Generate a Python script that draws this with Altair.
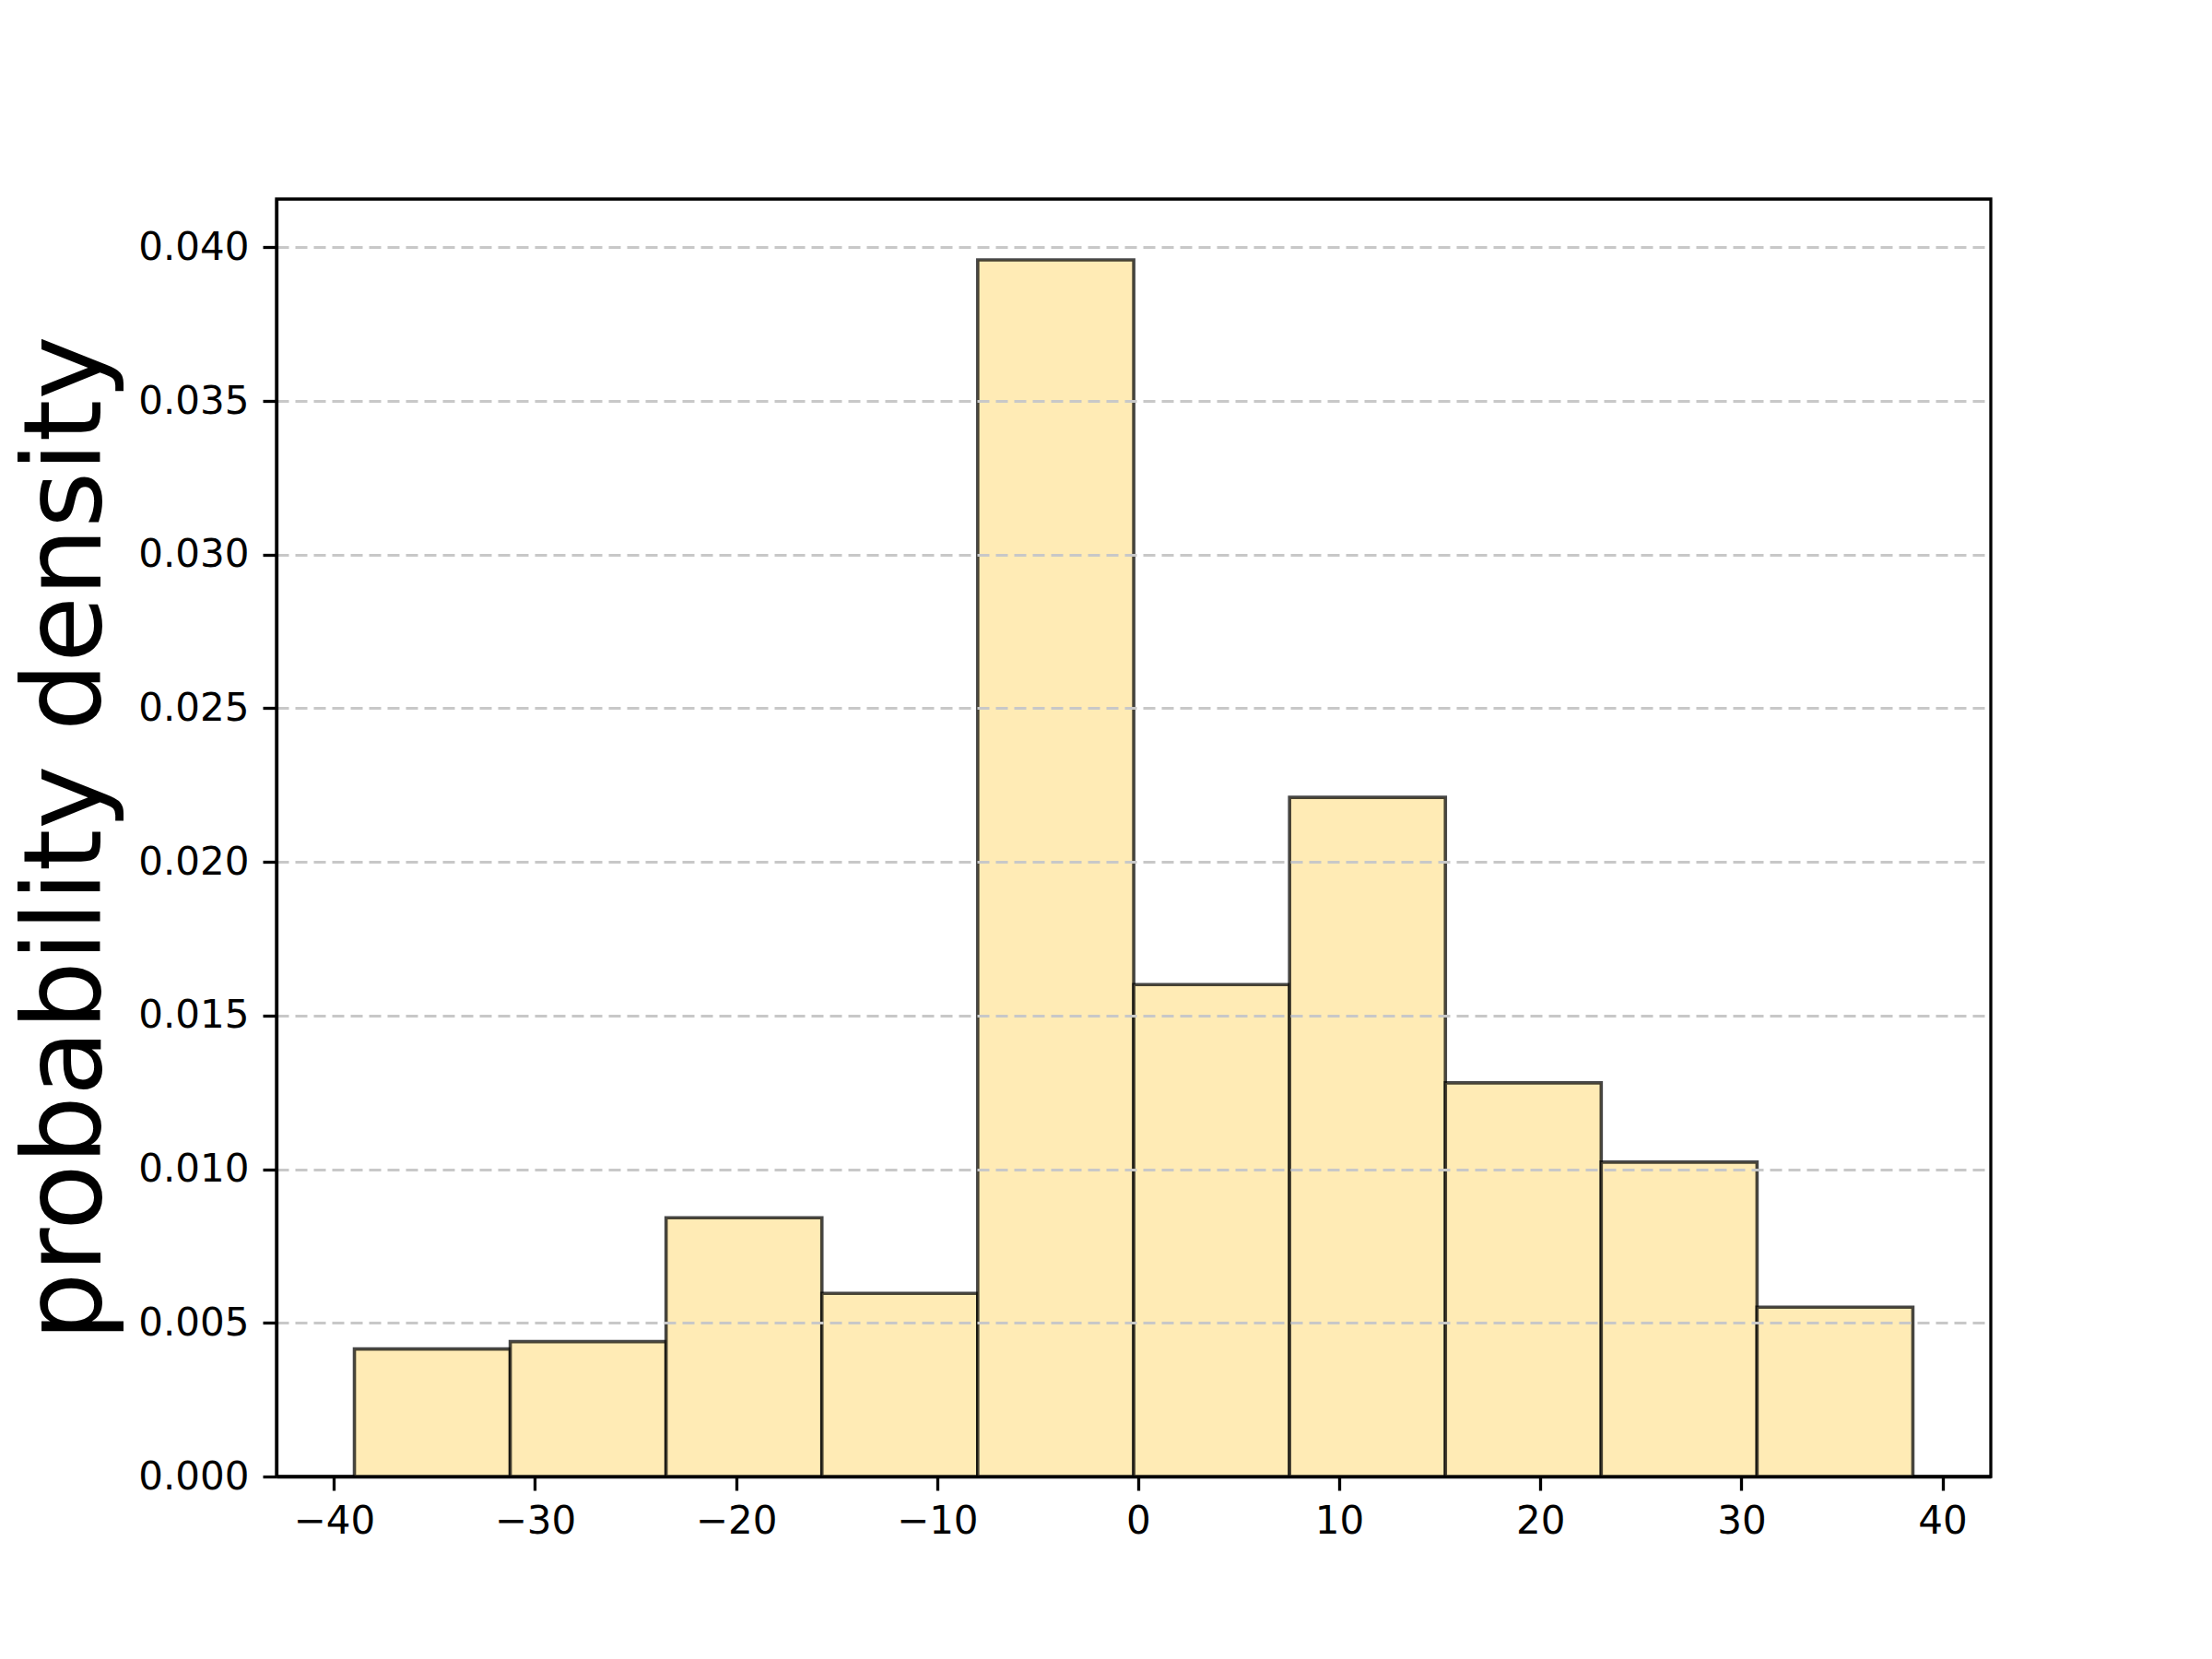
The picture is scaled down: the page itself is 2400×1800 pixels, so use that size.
import altair as alt
import pandas as pd

# Bin edges and density heights per bin
bin_edges = [-38.98, -31.23, -23.48, -15.73, -7.98, -0.22, 7.53, 15.28, 23.03, 30.78, 38.53]
densities = [0.00415, 0.00439, 0.00842, 0.00596, 0.03959, 0.01601, 0.02210, 0.01281, 0.01023, 0.00551]
x_ticks = [-40, -30, -20, -10, 0, 10, 20, 30, 40]
y_ticks = [0.0, 0.005, 0.010, 0.015, 0.020, 0.025, 0.030, 0.035, 0.040]

df = pd.DataFrame({
    "start": bin_edges[:-1],
    "end": bin_edges[1:],
    "density": densities,
})

x_min, x_max = -42.855, 42.405
y_max = 0.04157

bars = alt.Chart(df).mark_rect(
    fill="#FFEBB5",
    stroke="black",
    strokeOpacity=0.72,
    strokeWidth=3.6,
).encode(
    x=alt.X(
        "start:Q",
        scale=alt.Scale(domain=[x_min, x_max], nice=False, zero=False),
        axis=alt.Axis(
            values=x_ticks,
            title=None,
            grid=False,
            format="d",
            labelFont="DejaVu Sans",
            labelFontSize=42,
            labelColor="black",
            labelPadding=13,
            labelBaseline="top",
            tickSize=15,
            tickWidth=3.3,
            tickColor="black",
            domain=True,
            domainColor="black",
            domainWidth=3.3,
            zindex=1,
        ),
    ),
    x2="end:Q",
    y=alt.Y(
        "density:Q",
        scale=alt.Scale(domain=[0, y_max], nice=False),
        axis=alt.Axis(
            values=y_ticks,
            format=".3f",
            title="probability density",
            titleFont="DejaVu Sans",
            titleFontSize=117,
            titleFontWeight="normal",
            titleColor="black",
            titleAngle=270,
            titleAlign="center",
            titleBaseline="alphabetic",
            titleX=-192,
            titleY=693,
            labelFont="DejaVu Sans",
            labelFontSize=42,
            labelColor="black",
            labelPadding=15,
            tickSize=15,
            tickWidth=3.3,
            tickColor="black",
            grid=True,
            gridColor="#c8c8c8",
            gridWidth=3,
            gridDash=[13, 7],
            domain=True,
            domainColor="black",
            domainWidth=3.3,
            zindex=1,
        ),
    ),
    y2=alt.datum(0),
)

chart = bars.properties(
    width=1860,
    height=1386,
    autosize=alt.AutoSizeParams(type="none"),
    padding={"left": 292, "top": 208, "right": 232, "bottom": 190},
).configure(
    background="white",
    view=alt.ViewConfig(stroke="black", strokeWidth=3.3, strokeOpacity=1),
)

chart.save("out.html", embed_options={"renderer": "svg", "actions": False})
